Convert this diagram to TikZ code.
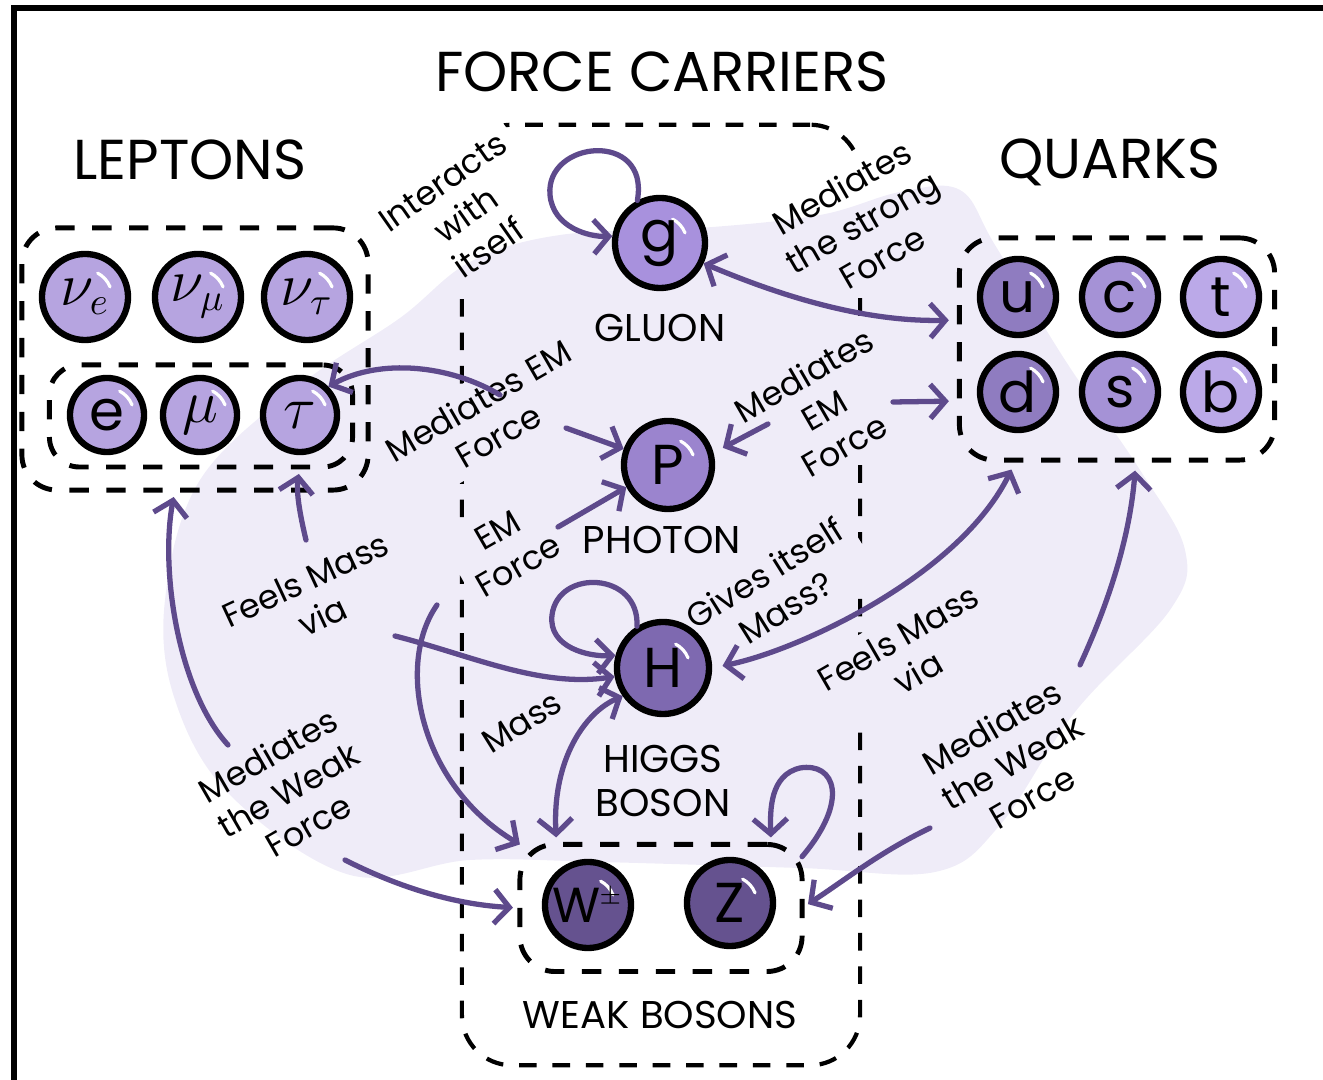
\documentclass[tikz,border=0pt]{standalone}
\usepackage{fontspec}
\setmainfont{Poppins}
\usetikzlibrary{arrows.meta,calc,positioning}
\definecolor{blob}{HTML}{EFECF8}
\definecolor{linkcol}{HTML}{5E4A8C}
\definecolor{lep}{HTML}{B6A4E0}
\definecolor{qup}{HTML}{8F7CC0}
\definecolor{qmid}{HTML}{A592D6}
\definecolor{qtop}{HTML}{BBA9E8}
\definecolor{glu}{HTML}{A891DD}
\definecolor{pho}{HTML}{9B84CE}
\definecolor{hig}{HTML}{7E69B0}
\definecolor{wk}{HTML}{65528F}
\tikzset{
  particle/.style   = {circle, draw=black, line width=1.8pt, inner sep=0pt,
                       font=\fontsize{16}{16}\selectfont,
                       path picture={\draw[white,line width=0.9pt,line cap=round]
                         ([shift={(22:0.27cm)}]path picture bounding box.center)
                         arc[start angle=22,end angle=62,radius=0.27cm];}},
  grp box/.style    = {draw, line width=1.4pt, dash pattern=on 5.5pt off 5pt,
                       rounded corners=0.35cm, inner sep=0pt, outer sep=0pt},
  carrier box/.style= {draw, line width=1.2pt, dash pattern=on 5pt off 4.5pt,
                       rounded corners=0.5cm, inner sep=0pt, outer sep=0pt},
  heading/.style    = {font=\fontsize{16}{18}\selectfont},
  caption/.style    = {font=\fontsize{11}{12.5}\selectfont, align=center},
  blurb/.style      = {font=\fontsize{9.5}{11.5}\selectfont, align=center, inner sep=2.5pt},
  link/.style       = {draw=linkcol, line width=1.5pt, line cap=round,
                       -{Straight Barb[length=1.5mm,width=3.4mm]}},
  link2/.style      = {link, {Straight Barb[length=1.5mm,width=3.4mm]}-{Straight Barb[length=1.5mm,width=3.4mm]}},
}

\begin{document}
\begin{tikzpicture}[x=0.01cm, y=-0.01cm, every node/.style={font=\fontsize{10}{11}\selectfont}]
  \useasboundingbox (0,0) rectangle (1323,1080);
  \draw[line width=1.5pt] (1323,8) -- (14,8) -- (14,1080);

  % lavender backdrop
  \fill[blob] plot[smooth cycle, tension=0.6] coordinates {
    (165,600) (200,480) (300,385) (400,318) (470,262) (560,235) (700,228)
    (820,215) (900,192) (960,190) (995,245) (1065,360) (1140,470) (1185,550)
    (1170,610) (1075,712) (1000,825) (935,872) (800,868) (600,862) (470,860)
    (350,875) (230,795) (175,700)};

  \node[heading] (lepT) at (190,160) {LEPTONS};
  \node[heading] (fcT)  at (662,72)  {FORCE CARRIERS};
  \node[heading] (qT)   at (1110,162) {QUARKS};

  % notes
  \node[blurb, rotate=35] (nInteracts) at (466,215) {Interacts\\with\\itself};
  \node[blurb, rotate=30] (nStrong)    at (862,222) {Mediates\\the strong\\Force};
  \node[blurb, rotate=30] (nEML)       at (488,418) {Mediates EM\\Force};
  \node[blurb, rotate=30] (nEMR)       at (824,410) {Mediates\\EM\\Force};
  \node[blurb, rotate=30] (nEMW)       at (508,548) {EM\\Force};
  \node[blurb, rotate=25] (nFeelsL)    at (314,598) {Feels Mass\\via};
  \node[blurb, rotate=32] (nGives)     at (775,590) {Gives itself\\Mass?};
  \node[blurb, rotate=30] (nFeelsR)    at (908,655) {Feels Mass\\via};
  \node[blurb, rotate=32] (nMass)      at (522,722) {Mass};
  \node[blurb, rotate=30] (nWeakL)     at (288,790) {Mediates\\the Weak\\Force};
  \node[blurb, rotate=30] (nWeakR)     at (1012,762) {Mediates\\the Weak\\Force};

  % dashed groups
  \node[grp box, minimum width=3.46cm, minimum height=2.62cm] (lout) at (195,359) {};
  \node[grp box, minimum width=3.03cm, minimum height=1.02cm, rounded corners=0.3cm] (lin) at (201,416) {};
  \node[grp box, minimum width=3.15cm, minimum height=2.22cm] (qbox) at (1117,349) {};
  \node[grp box, minimum width=2.82cm, minimum height=1.27cm] (wbox) at (661,908) {};
  \begin{scope}[even odd rule]
    % gaps in the dashed line where the notes cross it
    \clip (0,0) rectangle (1323,1080)
      (nInteracts.north west) -- (nInteracts.north east) -- (nInteracts.south east) -- (nInteracts.south west) -- cycle
      (nStrong.north west) -- (nStrong.north east) -- (nStrong.south east) -- (nStrong.south west) -- cycle
      (nEML.north west) -- (nEML.north east) -- (nEML.south east) -- (nEML.south west) -- cycle
      (nEMR.north west) -- (nEMR.north east) -- (nEMR.south east) -- (nEMR.south west) -- cycle
      (nEMW.north west) -- (nEMW.north east) -- (nEMW.south east) -- (nEMW.south west) -- cycle
      (nGives.north west) -- (nGives.north east) -- (nGives.south east) -- (nGives.south west) -- cycle
      (nFeelsR.north west) -- (nFeelsR.north east) -- (nFeelsR.south east) -- (nFeelsR.south west) -- cycle
      (nMass.north west) -- (nMass.north east) -- (nMass.south east) -- (nMass.south west) -- cycle;
    \node[carrier box, minimum width=3.98cm, minimum height=9.4cm] (fcbox) at (661,595) {};
  \end{scope}

  % leptons
  \node[particle, fill=lep, minimum size=0.86cm] (nue)   at (85,297)  {$\nu_e$};
  \node[particle, fill=lep, minimum size=0.86cm] (numu)  at (198,297) {$\nu_\mu$};
  \node[particle, fill=lep, minimum size=0.86cm] (nutau) at (307,297) {$\nu_\tau$};
  \node[particle, fill=lep, minimum size=0.74cm] (e)     at (107,415) {e};
  \node[particle, fill=lep, minimum size=0.74cm] (mu)    at (200,415) {$\mu$};
  \node[particle, fill=lep, minimum size=0.74cm] (tau)   at (300,415) {$\tau$};

  % quarks
  \node[particle, fill=qup,  minimum size=0.76cm] (u) at (1018,297) {u};
  \node[particle, fill=qmid, minimum size=0.76cm] (c) at (1120,297) {c};
  \node[particle, fill=qtop, minimum size=0.76cm] (t) at (1221,297) {t};
  \node[particle, fill=qup,  minimum size=0.76cm] (d) at (1018,392) {d};
  \node[particle, fill=qmid, minimum size=0.76cm] (s) at (1120,392) {s};
  \node[particle, fill=qtop, minimum size=0.76cm] (b) at (1221,392) {b};

  % force carriers
  \node[particle, fill=glu, minimum size=0.9cm]  (g) at (660,243) {g};
  \node[caption] (gT) at (660,328) {GLUON};
  \node[particle, fill=pho, minimum size=0.88cm] (P) at (668,465) {P};
  \node[caption] (PT) at (662,540) {PHOTON};
  \node[particle, fill=hig, minimum size=0.92cm] (H) at (663,668) {H};
  \node[caption] (HT) at (663,781) {HIGGS\\BOSON};
  \node[particle, fill=wk, minimum size=0.86cm, font=\fontsize{14}{14}\selectfont] (W) at (588,905) {W\kern-0.5pt$^{\scriptscriptstyle\pm}$};
  \node[particle, fill=wk, minimum size=0.86cm]  (Z) at (730,903) {Z};
  \node[caption] (wT) at (660,1015) {WEAK BOSONS};

  \coordinate (emL1) at (500,395);   % arc end under "Mediates EM"
  \coordinate (emL2) at (566,428);
  \coordinate (emR1) at (768,424);
  \coordinate (emR2) at (893,402);
  \coordinate (emW1) at (558,527);
  \coordinate (emW2) at (437,605);
  \coordinate (fmL1) at (306,540);
  \coordinate (fmL2) at (395,636);
  \coordinate (mwL1) at (228,745);
  \coordinate (mwL2) at (345,860);
  \coordinate (mwR1) at (1080,665);
  \coordinate (mwR2) at (930,828);
  \coordinate (qdock1) at ($(qbox.south west)!0.18!(qbox.south east)$);
  \coordinate (qdock2) at ($(qbox.south west)!0.56!(qbox.south east)$);
  \coordinate (wdock)  at ($(wbox.north west)!0.13!(wbox.north east)$);
  \coordinate (zdock)  at ($(wbox.north west)!0.89!(wbox.north east)$);

  % gluon
  \draw[link] (g.118) .. controls (650,130) and (545,140) .. (550,195)
              .. controls (553,228) and (590,237) .. (g.172);
  \draw[link2, shorten >=3pt] (g.-25) .. controls (790,300) and (870,322) .. ([yshift=0.29cm]qbox.west);

  % photon
  \draw[link] (emL1) .. controls (450,365) and (380,358) .. (tau.45);
  \draw[link] (emL2) -- (P.160);
  \draw[link, shorten >=3pt] (emR1) -- (P.15);
  \draw[link, shorten >=3pt] (emR2) -- ([yshift=-0.52cm]qbox.west);
  \draw[link] (emW1) -- (P.208);
  \draw[link] (emW2) .. controls (395,665) and (420,785) .. (wbox.north west);

  % higgs
  \draw[link] (H.122) .. controls (640,572) and (558,568) .. (552,615)
              .. controls (548,648) and (590,657) .. (H.165);
  \draw[link, shorten >=2pt] (fmL1) .. controls (300,515) and (296,492) .. (lin.south -| tau);
  \draw[link] (fmL2) .. controls (470,655) and (540,688) .. (H.190);
  \draw[link2, shorten >=2pt] (H.215) .. controls (585,712) and (552,760) .. (wdock);
  \draw[link2, shorten <=3pt, shorten >=3pt] (H.0) .. controls (800,650) and (960,575) .. (qdock1);

  % weak bosons
  \draw[link, shorten >=2pt] (mwL1) .. controls (178,690) and (160,570) .. ([xshift=-0.2cm]lout.south);
  \draw[link, shorten >=2pt] (mwL2) .. controls (410,893) and (465,905) .. (wbox.west);
  \draw[link, shorten >=3pt] (mwR1) .. controls (1110,600) and (1130,535) .. (qdock2);
  \draw[link, shorten >=2pt] (mwR2) .. controls (880,852) and (845,880) .. (wbox.east);
  \draw[link, shorten >=2pt] (wbox.20) .. controls (850,800) and (835,762) .. (800,768)
              .. controls (770,775) and (770,810) .. (zdock);
\end{tikzpicture}
\end{document}
